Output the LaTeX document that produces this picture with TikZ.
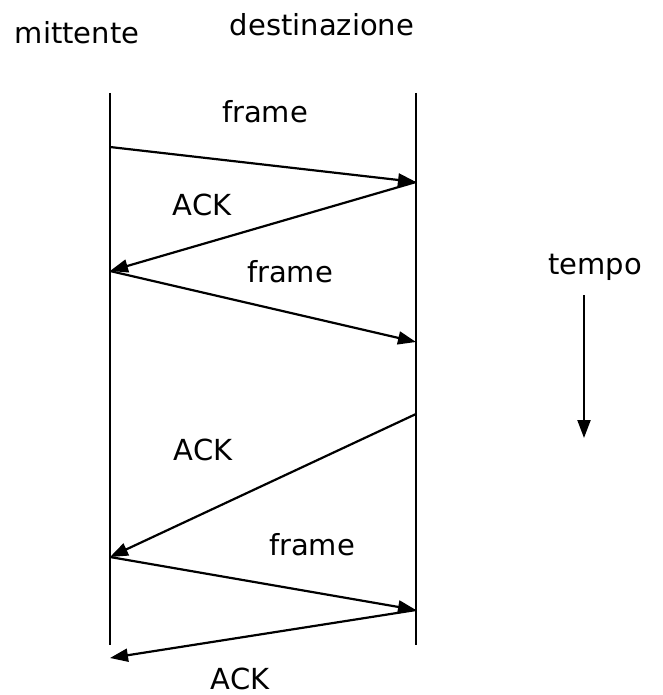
\documentclass[tikz,border=0pt]{standalone}
\usepackage{fontspec}
\setmainfont{DejaVu Sans}
\usetikzlibrary{arrows.meta}
\begin{document}
\begin{tikzpicture}[x=1pt,y=-1pt,
  lifeline/.style={line width=1.7pt},
  msg/.style={line width=2.2pt,-{Triangle[length=18pt,width=13pt]}},
  lbl/.style={font=\fontsize{29}{32}\selectfont,inner sep=0pt}]
\useasboundingbox (0,0) rectangle (662,695);
% lifelines
\coordinate (LT) at (110,93);
\coordinate (LB) at (110,645);
\coordinate (RT) at (416,93);
\coordinate (RB) at (416,645);
\draw[lifeline] (LT) -- (LB);
\draw[lifeline] (RT) -- (RB);
% message endpoints
\coordinate (s1) at (110,147);
\coordinate (r1) at (416,182);
\coordinate (s2) at (110,271);
\coordinate (r2) at (416,342);
\coordinate (r3) at (416,414);
\coordinate (s3) at (110,557);
\coordinate (r4) at (416,610);
\coordinate (s4) at (110,658);
\draw[msg] (s1) -- (r1);
\draw[msg] (r1) -- (s2);
\draw[msg] (s2) -- (r2);
\draw[msg] (r3) -- (s3);
\draw[msg] (s3) -- (r4);
\draw[msg] (r4) -- (s4);
% labels
\node[lbl] (mitt) at (77,33) {mittente};
\node[lbl] (dest) at (322,25) {destinazione};
\node[lbl] (f1) at (265,112) {frame};
\node[lbl] (a1) at (202,205) {ACK};
\node[lbl] (f2) at (290,272) {frame};
\node[lbl] (a2) at (203,450) {ACK};
\node[lbl] (f3) at (312,545) {frame};
\node[lbl] (a3) at (240,679) {ACK};
\node[lbl] (tempo) at (595,267) {tempo};
\coordinate (t1) at (584,295);
\coordinate (t2) at (584,438);
\draw[msg] (t1) -- (t2);
\end{tikzpicture}
\end{document}
